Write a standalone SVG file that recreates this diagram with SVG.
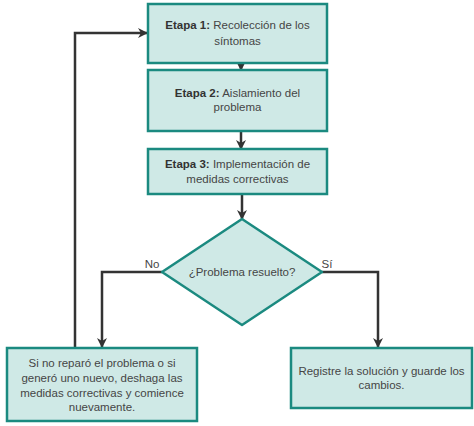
<svg xmlns="http://www.w3.org/2000/svg" width="474" height="426" viewBox="0 0 474 426">
<style>
.box{fill:#cfe9e6;stroke:#1b8a80;stroke-width:2.5}
.t{font-family:"Liberation Sans",Arial,sans-serif;font-size:11.5px;fill:#454545;text-anchor:middle}
.b{font-weight:bold;fill:#333}
.ln{fill:none;stroke:#333;stroke-width:2.5}
.lbl{font-family:"Liberation Sans",Arial,sans-serif;font-size:11.5px;fill:#454545}
</style>
<defs>
<marker id="ah" viewBox="0 0 10 10" refX="9" refY="5" markerWidth="4" markerHeight="4" orient="auto" markerUnits="strokeWidth">
<path d="M0,0 L10,5 L0,10 L3,5 Z" fill="#333"/>
</marker>
</defs>
<g id="connectors">
<line class="ln" x1="241" y1="63" x2="241" y2="70" marker-end="url(#ah)"/>
<line class="ln" x1="241" y1="131" x2="241" y2="149" marker-end="url(#ah)"/>
<line class="ln" x1="242" y1="194" x2="242" y2="219" marker-end="url(#ah)"/>
<polyline class="ln" points="162,272 102,272 102,347" marker-end="url(#ah)"/>
<polyline class="ln" points="322,272 378,272 378,347" marker-end="url(#ah)"/>
<polyline class="ln" points="75,348 75,33 147,33" marker-end="url(#ah)"/>
<text class="lbl" x="152" y="268" text-anchor="middle">No</text>
<text class="lbl" x="327" y="268" text-anchor="middle">Sí</text>
</g>
<g id="step1">
<rect class="box" x="148" y="4" width="179" height="59"/>
<text class="t" x="237.5" y="29"><tspan class="b">Etapa 1:</tspan> Recolección de los</text>
<text class="t" x="237.5" y="45">síntomas</text>
</g>
<g id="step2">
<rect class="box" x="148" y="70" width="179" height="61"/>
<text class="t" x="237.5" y="97"><tspan class="b">Etapa 2:</tspan> Aislamiento del</text>
<text class="t" x="237.5" y="111">problema</text>
</g>
<g id="step3">
<rect class="box" x="148" y="149" width="179" height="45"/>
<text class="t" x="237.5" y="168"><tspan class="b">Etapa 3:</tspan> Implementación de</text>
<text class="t" x="237.5" y="183">medidas correctivas</text>
</g>
<g id="decision">
<path class="box" stroke-linejoin="round" d="M242,219 L322,272 L242,325 L162,272 Z"/>
<text class="t" x="242" y="276">¿Problema resuelto?</text>
</g>
<g id="undo">
<rect class="box" x="7" y="348" width="190" height="73"/>
<text class="t" x="102" y="367">Si no reparó el problema o si</text>
<text class="t" x="102" y="382">generó uno nuevo, deshaga las</text>
<text class="t" x="102" y="397">medidas correctivas y comience</text>
<text class="t" x="102" y="411">nuevamente.</text>
</g>
<g id="record">
<rect class="box" x="291" y="348" width="181" height="60"/>
<text class="t" x="381.5" y="375">Registre la solución y guarde los</text>
<text class="t" x="381.5" y="389">cambios.</text>
</g>
</svg>
